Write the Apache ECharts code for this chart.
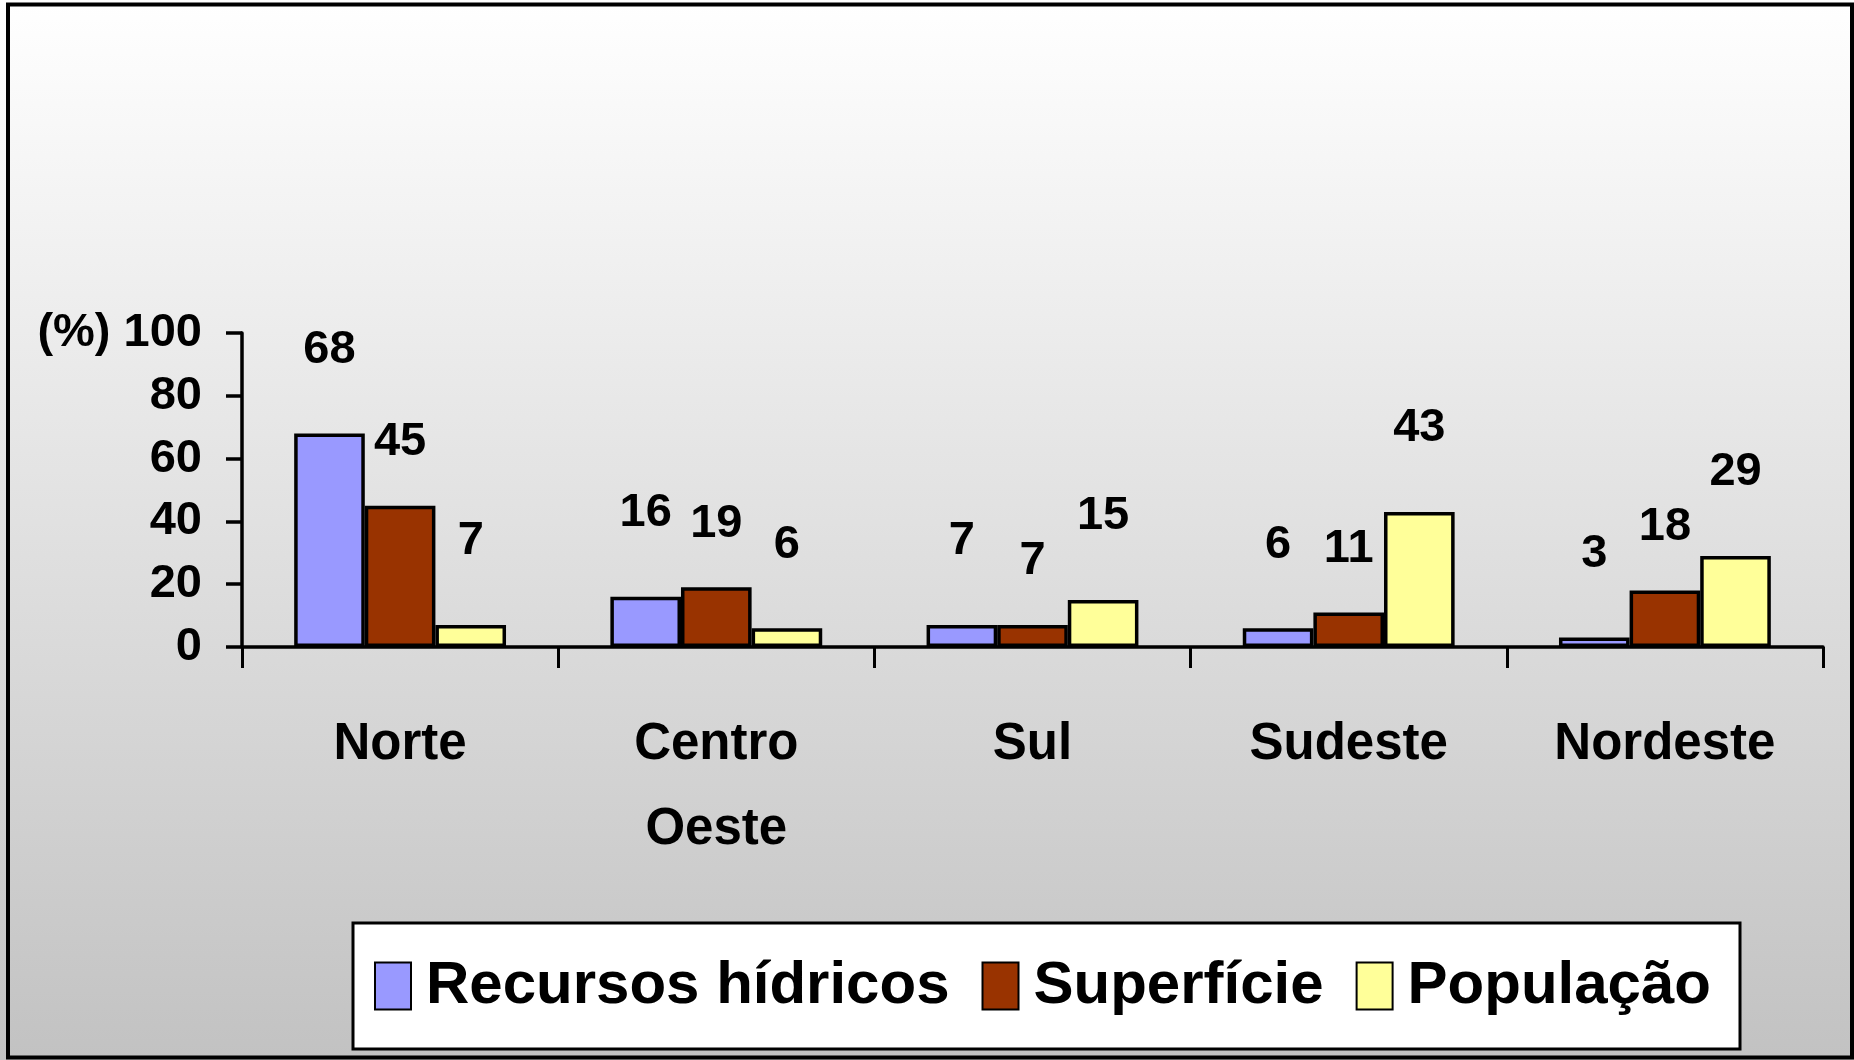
<!DOCTYPE html>
<html>
<head>
<meta charset="utf-8">
<title>Recursos hídricos</title>
<script src="https://cdn.jsdelivr.net/npm/echarts@6/dist/echarts.min.js"></script>
<style>
  html, body { margin: 0; padding: 0; }
  #container { width: 1854px; height: 1060px; }
</style>
</head>
<body>
<div id="container"></div>
<script>
// regioes e valores (%)
var regioes = ['Norte', 'Centro\nOeste', 'Sul', 'Sudeste', 'Nordeste'];
var recursosHidricos = [68, 16, 7, 6, 3];
var superficie = [45, 19, 7, 11, 18];
var populacao = [7, 6, 15, 43, 29];
var yTicks = [0, 20, 40, 60, 80, 100];

var fonte = "'Liberation Sans', Arial, sans-serif";

var dom = document.getElementById("container");
var myChart = echarts.init(dom);
var option = null;

var rotulo = function (dist) {
  return {
    show: true,
    position: 'top',
    distance: dist,
    color: '#000',
    fontFamily: fonte,
    fontWeight: 'bold',
    fontSize: 47,
    lineHeight: 47
  };
};

var borda = { borderColor: '#000', borderWidth: 3.5 };

option = {
  backgroundColor: {
    type: 'linear', x: 0, y: 0, x2: 0, y2: 1,
    colorStops: [{ offset: 0, color: '#ffffff' }, { offset: 1, color: '#c2c2c2' }]
  },
  animation: false,
  graphic: [{
    type: 'rect',
    shape: { x: 8, y: 4.5, width: 1844, height: 1053 },
    style: { fill: 'none', stroke: '#000', lineWidth: 4 },
    z: 100
  }],
  grid: { left: 242, right: 31, top: 333, bottom: 413, outerBoundsMode: 'none', containLabel: false },
  legend: {
    left: 353,
    top: 923,
    padding: [23, 29, 23, 21],
    backgroundColor: '#fff',
    borderColor: '#000',
    borderWidth: 3,
    itemWidth: 36,
    itemHeight: 47,
    itemGap: 32,
    icon: 'rect',
    textStyle: {
      color: '#000',
      fontFamily: fonte,
      fontWeight: 'bold',
      fontSize: 60,
      lineHeight: 80,
      padding: [0, 0, 0, 10]
    },
    data: ['Recursos hídricos', 'Superfície', 'População']
  },
  xAxis: {
    type: 'category',
    data: regioes,
    axisLine: { lineStyle: { color: '#000', width: 3.5 } },
    axisTick: { show: true, length: 21, lineStyle: { color: '#000', width: 3 } },
    axisLabel: {
      color: '#000',
      fontFamily: fonte,
      fontWeight: 'bold',
      fontSize: 51,
      lineHeight: 85,
      margin: 55,
      interval: 0
    }
  },
  yAxis: {
    type: 'value',
    min: yTicks[0],
    max: yTicks[yTicks.length - 1],
    interval: 20,
    splitLine: { show: false },
    axisLine: { show: true, lineStyle: { color: '#000', width: 3.5 } },
    axisTick: { show: true, inside: false, length: 16, lineStyle: { color: '#000', width: 3.5 } },
    axisLabel: {
      color: '#000',
      fontFamily: fonte,
      fontWeight: 'bold',
      fontSize: 47,
      margin: 40,
      formatter: function (v) { return v === 100 ? '(%) 100' : v; }
    }
  },
  series: [{
    name: 'Recursos hídricos',
    type: 'bar',
    data: recursosHidricos,
    barGap: '0%',
    barCategoryGap: '33%',
    itemStyle: Object.assign({ color: '#9999ff' }, borda),
    label: rotulo(60)
  }, {
    name: 'Superfície',
    type: 'bar',
    data: superficie,
    itemStyle: Object.assign({ color: '#993300' }, borda),
    label: rotulo(40)
  }, {
    name: 'População',
    type: 'bar',
    data: populacao,
    itemStyle: Object.assign({ color: '#ffff99' }, borda),
    label: rotulo(60)
  }]
};

if (option && typeof option === "object") {
  myChart.setOption(option, true);
}
</script>
</body>
</html>
